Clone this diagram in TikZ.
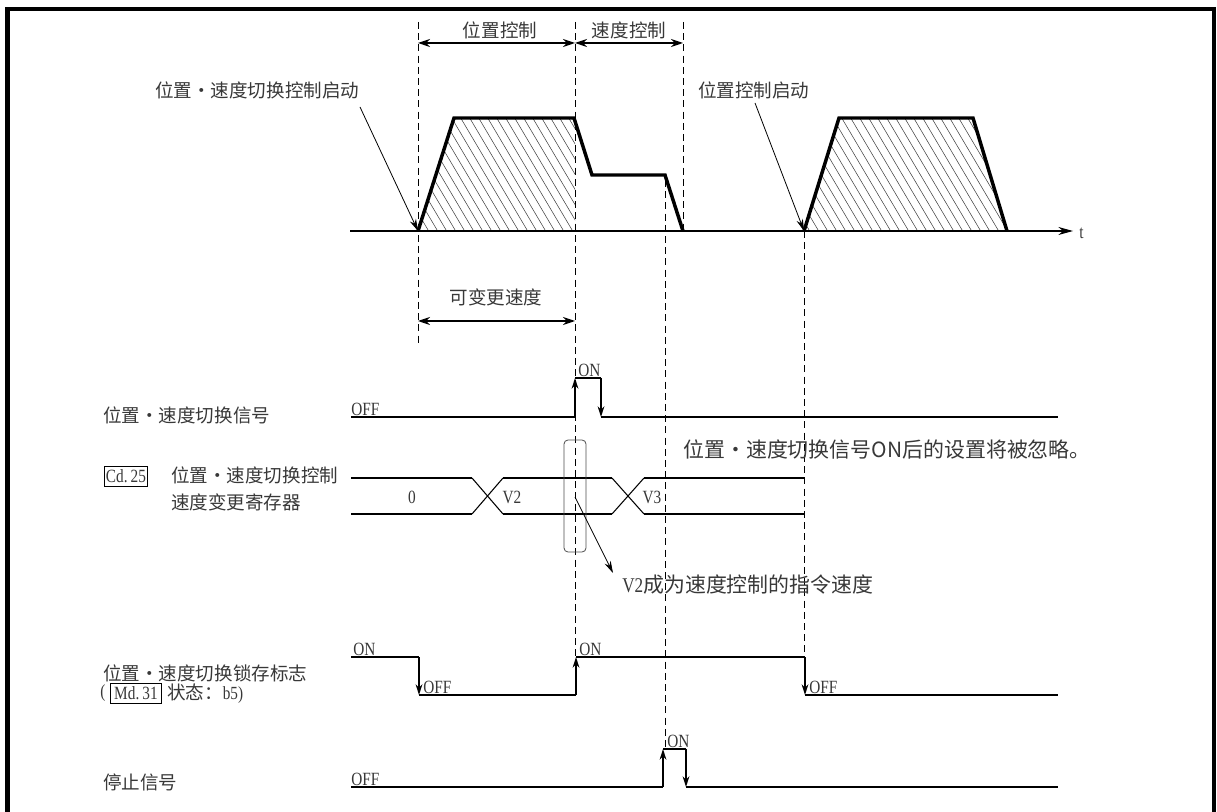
\documentclass[tikz,border=0pt]{standalone}
\usepackage{fontspec}
\setmainfont{Liberation Serif}
\newfontfamily\cjk{Noto Sans CJK SC}
\newfontfamily\latn[FakeStretch=0.82]{Liberation Serif}
\usetikzlibrary{arrows.meta}
\definecolor{txt}{gray}{0.22}
\tikzset{
  frame/.style={line width=3.6pt},
  prof/.style={line width=2.6pt, line join=miter},
  sig/.style={line width=2.2pt},
  edge/.style={line width=1.5pt, -{Stealth[length=8pt,width=5pt]}},
  dsh/.style={line width=0.7pt, dash pattern=on 5.2pt off 3.2pt},
  dim/.style={line width=0.9pt, {Stealth[length=9pt,width=6pt]}-{Stealth[length=9pt,width=6pt]}},
  ptr/.style={line width=0.6pt, -{Stealth[length=9pt,width=5pt]}},
  axisl/.style={line width=0.9pt, -{Stealth[length=11pt,width=6pt]}},
  hatch/.style={line width=0.4pt, black!75},
  regl/.style={line width=2.2pt},
  regx/.style={line width=0.8pt},
  lab/.style={font=\cjk\fontsize{13.9pt}{16pt}\selectfont, text=txt, inner sep=0pt},
  big/.style={font=\cjk\fontsize{15.7pt}{18pt}\selectfont, text=txt, inner sep=0pt},
  lat/.style={font=\latn\fontsize{14pt}{16pt}\selectfont, text=txt, inner sep=0pt},
  boxed/.style={draw=black, line width=0.8pt, font=\latn\fontsize{14pt}{16pt}\selectfont, text=txt, inner xsep=1.2pt, inner ysep=0pt, minimum height=15pt},
}
\begin{document}
\begin{tikzpicture}[x=0.75pt,y=-0.75pt]
\useasboundingbox (0,0) rectangle (1217,812);
% frame
\draw[frame] (7.5,840) -- (7.5,9) -- (1214,9) -- (1214,840);

% dashed guide lines
\draw[dsh] (418,22) -- (418,345);
\draw[dsh] (575,22) -- (575,657);
\draw[dsh] (683,22) -- (683,231);
\draw[dsh] (665,180) -- (665,749);
\draw[dsh] (804,231) -- (804,657);

% top dimension labels
\node[lab] (pc) at (500,30) {位置控制};
\node[lab] (sc) at (629,30) {速度控制};
\coordinate (d1) at (418,43);
\coordinate (d2) at (575,43);
\coordinate (d3) at (683,43);
\draw[dim] (d1) -- (d2);
\draw[dim] (d2) -- (d3);

% hatching
\begin{scope}
\clip (418,231) -- (454,118) -- (575,118) -- (575,231) -- cycle;
\foreach \x in {300,309,...,620} \draw[hatch] (\x,105) -- ++(80,135);
\end{scope}
\begin{scope}
\clip (804,231) -- (839,118) -- (973,118) -- (1007,231) -- cycle;
\foreach \x in {690,699,...,1020} \draw[hatch] (\x,105) -- ++(80,135);
\end{scope}

% axis
\coordinate (ax0) at (350,231);
\coordinate (ax1) at (1073,231);
\draw[axisl] (ax0) -- (ax1);
\node[lat, anchor=west] (tl) at (1079,233) {t};

% speed profiles
\draw[prof] (418,231) -- (454,118) -- (574,118) -- (592,175) -- (665,175) -- (683,231);
\draw[prof] (804,231) -- (839,118) -- (973,118) -- (1007,231);

% start labels
\node[lab, anchor=west] (st1) at (155,90) {位置・速度切换控制启动};
\coordinate (p1) at (360,107);
\coordinate (q1) at (418,231);
\draw[ptr] (p1) -- (q1);
\node[lab, anchor=west] (st2) at (698,90) {位置控制启动};
\coordinate (p2) at (755,103);
\coordinate (q2) at (804,231);
\draw[ptr] (p2) -- (q2);

% variable speed range
\node[lab] (vs) at (496,297) {可变更速度};
\coordinate (v1) at (418,321);
\coordinate (v2) at (575,321);
\draw[dim] (v1) -- (v2);

% signal 1
\node[lab, anchor=west] (sig1) at (103,415) {位置・速度切换信号};
\draw[sig] (351,417) -- (575,417);
\draw[edge] (575,417) -- (575,378);
\draw[sig] (575,378) -- (601,378);
\draw[edge] (601,378) -- (601,417);
\draw[sig] (601,417) -- (1058,417);
\node[lat, anchor=south west] (o1) at (351,416) {OFF};
\node[lat, anchor=south west] (n1) at (578,377) {ON};

\node[big, anchor=west] (note) at (683,450) {位置・速度切换信号ON后的设置将被忽略。};

% register
\node[boxed] (cd) at (126,476.5) {Cd.\,25};
\node[lab, anchor=west] (cdl1) at (171,475) {位置・速度切换控制};
\node[lab, anchor=west] (cdl2) at (171,502) {速度变更寄存器};
\draw[regl] (351,478) -- (472,478);
\draw[regl] (351,514) -- (472,514);
\draw[regx] (472,478) -- (503,514);
\draw[regx] (472,514) -- (503,478);
\draw[regl] (503,478) -- (612,478);
\draw[regl] (503,514) -- (612,514);
\draw[regx] (612,478) -- (644,514);
\draw[regx] (612,514) -- (644,478);
\draw[regl] (644,478) -- (804,478);
\draw[regl] (644,514) -- (804,514);
\node[lat] (r0) at (412,497) {0};
\node[lat] (r2) at (512,497) {V2};
\node[lat] (r3) at (652,497) {V3};
\node[draw=black!70, line width=0.6pt, rounded corners=3pt, minimum width=16.5pt, minimum height=84pt, inner sep=0pt] (rr) at (575,496) {};
\coordinate (a0) at (575,497);
\node[big, anchor=west] (v2l) at (622,585) {\latn V2\cjk 成为速度控制的指令速度};
\coordinate (a1) at (613,573);
\draw[ptr] (a0) -- (a1);

% latch
\node[lab, anchor=west] (lt1) at (103,673) {位置・速度切换锁存标志};
\node[lab, anchor=west] (lp) at (100,693.5) {\latn (};
\node[boxed, minimum width=38pt] (md) at (136,693.5) {Md.\,31};
\node[lab, anchor=west] (lt2) at (167,693.5) {状态：\latn b5)};
\draw[sig] (351,657) -- (419,657);
\draw[edge] (419,657) -- (419,695);
\draw[sig] (419,695) -- (576,695);
\draw[edge] (576,695) -- (576,657);
\draw[sig] (576,657) -- (805,657);
\draw[edge] (805,657) -- (805,695);
\draw[sig] (805,695) -- (1058,695);
\node[lat, anchor=south west] (ln1) at (353,656) {ON};
\node[lat, anchor=south west] (lo1) at (423,694) {OFF};
\node[lat, anchor=south west] (ln2) at (579,656) {ON};
\node[lat, anchor=south west] (lo2) at (809,694) {OFF};

% stop signal
\node[lab, anchor=west] (stp) at (103,782) {停止信号};
\draw[sig] (351,787) -- (663,787);
\draw[edge] (663,787) -- (663,749);
\draw[sig] (663,749) -- (686,749);
\draw[edge] (686,749) -- (686,787);
\draw[sig] (686,787) -- (1058,787);
\node[lat, anchor=south west] (so) at (351,786) {OFF};
\node[lat, anchor=south west] (sn) at (667,748) {ON};
\end{tikzpicture}
\end{document}
